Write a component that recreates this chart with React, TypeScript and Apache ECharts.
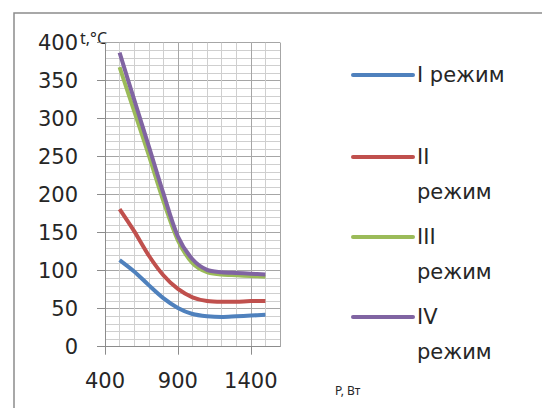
import React, { useEffect, useRef } from "react";
import * as echarts from "echarts";

const xValues = [500, 600, 700, 800, 900, 1000, 1100, 1200, 1300, 1400, 1500];
const mode1 = [114, 99, 81, 64, 51, 43, 40, 39, 40, 41, 42];
const mode2 = [181, 152, 120, 94, 76, 65, 60, 59, 59, 60, 60];
const mode3 = [368, 310, 252, 192, 140, 110, 98, 95, 94, 93, 92];
const mode4 = [387, 325, 264, 202, 145, 115, 101, 98, 97, 96, 95];
const seriesNames = ["I режим", "II режим", "III режим", "IV режим"];
const legendLabels = ["I режим", "II\nрежим", "III\nрежим", "IV\nрежим"];
const colors = ["#4F81BD", "#C0504D", "#9BBB59", "#8064A2"];
const yAxisTitle = "t,°C";
const xAxisTitle = "P, Вт";

export default function App() {
  const ref = useRef<HTMLDivElement>(null);
  useEffect(() => {
    if (!ref.current) return;
    const chart = echarts.init(ref.current, undefined, { renderer: "svg" });
    const all = [mode1, mode2, mode3, mode4];
    const legendTops = [75, 157, 237, 317];
    const graphic: any[] = [
      {
        type: "rect",
        shape: { x: 14, y: 13, width: 600, height: 450 },
        style: { fill: "none", stroke: "#8c8c8c", lineWidth: 1.5 },
        silent: true,
      },
      {
        type: "text",
        x: 80,
        y: 30,
        style: { text: yAxisTitle, font: "16px 'Noto Sans'", fill: "#262626" },
      },
      {
        type: "text",
        x: 335,
        y: 384,
        style: { text: xAxisTitle, font: "12px 'Noto Sans'", fill: "#262626" },
      },
    ];
    legendLabels.forEach((lab, i) => {
      graphic.push({
        type: "line",
        shape: { x1: 353, y1: legendTops[i], x2: 413, y2: legendTops[i] },
        style: { stroke: colors[i], lineWidth: 4, lineCap: "round" },
      });
      graphic.push({
        type: "text",
        x: 417,
        y: legendTops[i] - 17.5,
        style: {
          text: lab,
          font: "21px 'DejaVu Sans'",
          lineHeight: 35,
          fill: "#262626",
          verticalAlign: "top",
        },
      });
    });
    chart.setOption({
      animation: false,
      grid: { left: 105, right: 262, top: 42.7, bottom: 61.3 },
      xAxis: [
        {
          type: "value",
          position: "top",
          min: 400,
          max: 1600,
          interval: 100,
          axisLabel: { show: false },
          axisLine: { show: false },
          axisTick: { show: false },
          splitLine: { show: true, lineStyle: { color: "#cfcfcf", width: 1 } },
        },
        {
          type: "value",
          position: "bottom",
          min: 400,
          max: 1600,
          interval: 500,
          axisLabel: {
            showMaxLabel: false,
            fontSize: 21,
            fontFamily: "DejaVu Sans",
            color: "#262626",
            margin: 24,
            formatter: (v: number) => String(v),
          },
          axisLine: { show: true, lineStyle: { color: "#8c8c8c" } },
          axisTick: { show: true, length: 8, lineStyle: { color: "#8c8c8c" } },
          splitLine: { show: true, lineStyle: { color: "#a6a6a6", width: 1 } },
        },
      ],
      yAxis: {
        type: "value",
        min: 0,
        max: 400,
        interval: 50,
        axisLabel: {
          fontSize: 21,
          fontFamily: "DejaVu Sans",
          color: "#262626",
          margin: 27,
        },
        axisLine: { show: true, lineStyle: { color: "#8c8c8c" } },
        axisTick: { show: true, length: 8, lineStyle: { color: "#8c8c8c" } },
        splitLine: { show: true, lineStyle: { color: "#a6a6a6", width: 1 } },
        minorTick: { show: false, splitNumber: 5 },
        minorSplitLine: { show: true, lineStyle: { color: "#cfcfcf", width: 1 } },
      },
      series: all.map((vals, i) => ({
        name: seriesNames[i],
        type: "line",
        xAxisIndex: 0,
        smooth: 0.3,
        showSymbol: false,
        symbol: "none",
        data: xValues.map((x, j) => [x, vals[j]]),
        lineStyle: { color: colors[i], width: 4 },
        itemStyle: { color: colors[i] },
      })),
      graphic,
    });
    return () => chart.dispose();
  }, []);
  return (
    <div
      ref={ref}
      style={{ position: "fixed", left: 0, top: 0, width: 542, height: 408, background: "#fff" }}
    />
  );
}
